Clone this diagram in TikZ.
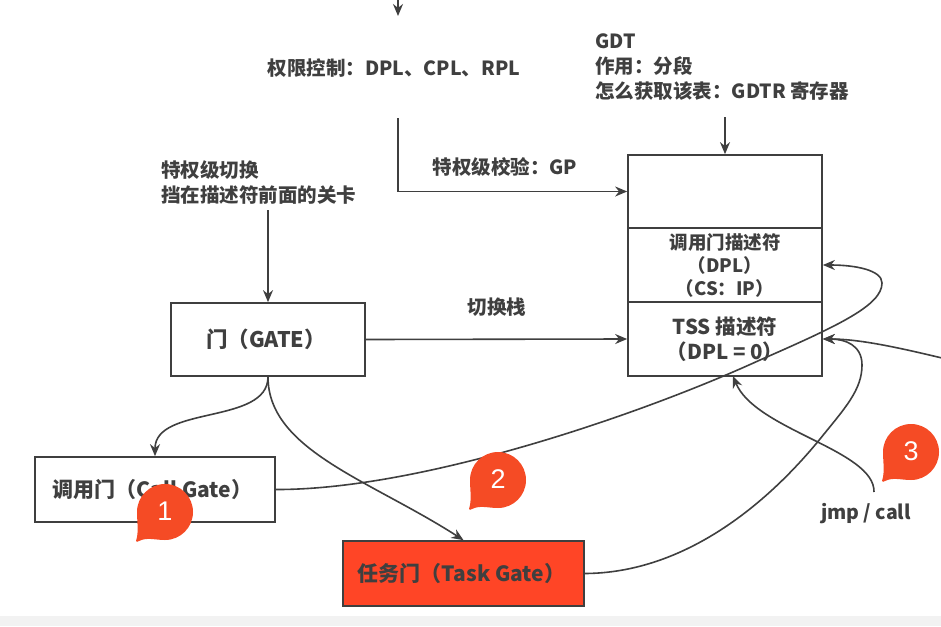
\documentclass[tikz,border=0pt]{standalone}
\usepackage{fontspec}
\setmainfont{Noto Sans CJK SC}
\newfontfamily\numfont{Liberation Sans}
\usetikzlibrary{arrows.meta}
\definecolor{inkgray}{HTML}{3F3F3F}
\definecolor{bubbleorange}{HTML}{F54B25}
\definecolor{taskred}{HTML}{FF4526}
\definecolor{bandgray}{HTML}{F2F2F2}
\newcommand{\fwl}{\char"FF08\relax}
\newcommand{\fwr}{\char"FF09\relax}
\newcommand{\fwc}{\char"FF1A\relax}
\tikzset{
  conn/.style={draw=inkgray,line width=1.6pt,-{Stealth[length=12pt,width=10pt]}},
  box/.style={draw=inkgray,line width=1.7pt,inner sep=0pt,text=inkgray,align=center},
  lbl/.style={inner sep=0pt,text=inkgray,align=left,font=\fontsize{19.5}{25}\selectfont\bfseries},
}
\newcommand{\bubblemark}[4]{% x, y, name, number
\fill[bubbleorange,shift={(#1,#2)}] (-29,29) .. controls (-26,20) and (-28,10) .. (-28,0)
  arc[start angle=180,end angle=-90,radius=28pt] .. controls (-10,28) and (-18,25) .. (-26,29)
  .. controls (-27,30) and (-29,30) .. (-29,29);
\node[inner sep=0pt,text=white,font=\numfont\fontsize{27}{27}\selectfont] (#3) at (#1,#2-1) {#4};
}
\begin{document}
\begin{tikzpicture}[x=1pt,y=-1pt]
\useasboundingbox (0,0) rectangle (941,626);
\fill[white] (0,0) rectangle (941,626);
\fill[bandgray] (0,616) rectangle (941,626);
% descriptor table
\node[box,minimum width=194pt,minimum height=73pt] (blank) at (725,191.5) {};
\node[box,minimum width=194pt,minimum height=74pt,font=\fontsize{18.5}{23}\selectfont\bfseries] (callDesc) at (725,265) {调用门描述符\\\fwl DPL\fwr\\\fwl CS\fwc IP\fwr};
\node[box,minimum width=194pt,minimum height=74pt,font=\fontsize{20.5}{25}\selectfont\bfseries] (tssDesc) at (725,339) {TSS 描述符\\\fwl DPL = 0\fwr};
% gates
\node[box,minimum width=194pt,minimum height=73pt,font=\fontsize{21.5}{25}\selectfont\bfseries] (gate) at (268,339.5) {门\fwl GATE\fwr\hspace*{4pt}};
\node[box,minimum width=240pt,minimum height=65pt,font=\fontsize{21}{25}\selectfont\bfseries] (callGate) at (155,489.5) {调用门\fwl Call Gate\fwr\hspace*{5pt}};
\node[box,fill=taskred,minimum width=241pt,minimum height=65pt,font=\fontsize{21}{25}\selectfont\bfseries] (taskGate) at (463.5,573.5) {任务门\fwl Task Gate\fwr\hspace*{4pt}};
% labels
\node[lbl] (ruleLbl) at (394,68) {权限控制\fwc DPL、CPL、RPL};
\node[lbl,anchor=north west] (gdtLbl) at (595,34) {GDT\\作用\fwc 分段\\怎么获取该表\fwc GDTR 寄存器};
\node[lbl,anchor=north west] (switchLbl) at (161,160) {特权级切换\\挡在描述符前面的关卡};
\node[lbl] (checkLbl) at (505,167) {特权级校验\fwc GP};
\node[lbl] (stackLbl) at (497,307) {切换栈};
\node[lbl] (jmpLbl) at (866,514) {jmp / call};
% free ends
\coordinate (topA) at (398,-2);
\coordinate (topB) at (398,16);
\coordinate (ruleOut) at (398,118);
\coordinate (gdtOut) at (725,117);
\coordinate (switchOut) at (268,210);
\coordinate (jmpOut) at (874,492);
\coordinate (tssBottom) at (733,376);
\coordinate (rightIn) at (942,358);
% connectors
\draw[conn] (topA) -- (topB);
\draw[conn] (ruleOut) |- (blank.west);
\draw[conn] (gdtOut) -- (blank.north);
\draw[conn] (switchOut) -- (gate.north);
\draw[conn] (gate.east) -- (tssDesc.west);
\draw[conn] (gate.south) .. controls (268,425) and (155,405) .. (callGate.north);
\draw[conn] (gate.south) .. controls (268,450) and (370,480) .. (taskGate.north);
\draw[conn] (callGate.east) .. controls (420,490) and (640,415) .. (760,360)
  .. controls (840,325) and (882,305) .. (882,283)
  .. controls (882,270) and (855,265) .. (callDesc.east);
\draw[conn] (taskGate.east) .. controls (680,573) and (762,510) .. (820,439)
  .. controls (845,408) and (862,390) .. (862,365)
  .. controls (862,345) and (845,339) .. (tssDesc.east);
\draw[conn] (jmpOut) .. controls (875,450) and (755,430) .. (tssBottom);
\draw[conn] (rightIn) .. controls (900,348) and (860,339) .. (tssDesc.east);
% number marks
\bubblemark{165}{512}{markA}{1}
\bubblemark{498}{480}{markB}{2}
\bubblemark{911}{452}{markC}{3}
\end{tikzpicture}
\end{document}
